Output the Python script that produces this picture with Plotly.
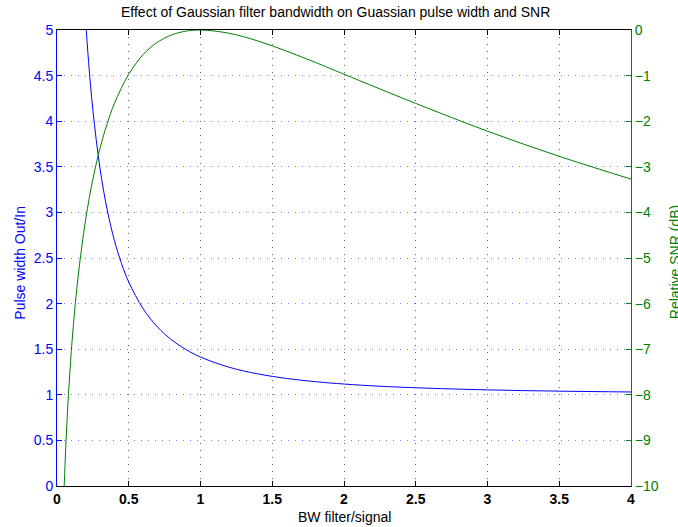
import plotly.graph_objects as go

# Filter bandwidth relative to signal bandwidth
bw_width = [0.18, 0.20, 0.22, 0.25, 0.30, 0.35, 0.40, 0.45, 0.50, 0.60, 0.70, 0.80,
            0.90, 1.00, 1.20, 1.40, 1.60, 1.80, 2.00, 2.25, 2.50, 3.00, 3.50, 4.00]
# Output / input pulse width ratio
pulse_ratio = [5.645, 5.099, 4.654, 4.123, 3.480, 3.027, 2.693, 2.437, 2.236, 1.944,
               1.744, 1.601, 1.495, 1.414, 1.302, 1.229, 1.179, 1.144, 1.118, 1.094,
               1.077, 1.054, 1.040, 1.031]

bw_snr = [0.05, 0.06, 0.07, 0.08, 0.10, 0.12, 0.15, 0.20, 0.25, 0.30, 0.35, 0.40,
          0.50, 0.60, 0.70, 0.80, 0.90, 1.00, 1.20, 1.40, 1.60, 1.80, 2.00, 2.50,
          3.00, 3.50, 4.00]
# Relative SNR in dB
snr_db = [-10.01, -9.22, -8.56, -7.99, -7.03, -6.26, -5.33, -4.15, -3.27, -2.59,
          -2.05, -1.61, -0.97, -0.54, -0.27, -0.107, -0.024, 0.0, -0.072, -0.241,
          -0.463, -0.71, -0.97, -1.61, -2.22, -2.77, -3.27]

x_ticks = [0, 0.5, 1, 1.5, 2, 2.5, 3, 3.5, 4]
y_ticks = [0, 0.5, 1, 1.5, 2, 2.5, 3, 3.5, 4, 4.5, 5]
y2_ticks = [0, -1, -2, -3, -4, -5, -6, -7, -8, -9, -10]

BLUE = "#0000FF"
GREEN = "#008000"
FONT = "Liberation Sans, Arial, Helvetica, sans-serif"

fig = go.Figure()
fig.add_trace(go.Scatter(x=bw_width, y=pulse_ratio, mode="lines",
                         line=dict(color=BLUE, width=1, shape="spline"),
                         yaxis="y", showlegend=False))
fig.add_trace(go.Scatter(x=bw_snr, y=snr_db, mode="lines",
                         line=dict(color=GREEN, width=1, shape="spline"),
                         yaxis="y2", showlegend=False))

fig.update_layout(
    width=678, height=527,
    margin=dict(l=57, r=47, t=30, b=41),
    paper_bgcolor="white", plot_bgcolor="white",
    font=dict(family=FONT, size=14, color="black"),
    xaxis=dict(range=[0, 4], tickvals=x_ticks,
               ticktext=[f"{v:g}" for v in x_ticks],
               ticks="inside", ticklen=5, tickcolor="black",
               showline=True, linecolor="black", linewidth=1, mirror="ticks",
               showgrid=True, gridcolor="rgba(60,60,60,0.8)", griddash="1px,6px", gridwidth=1,
               zeroline=False, tickfont=dict(size=14, color="black", weight="bold")),
    yaxis=dict(range=[0, 5], tickvals=y_ticks,
               ticktext=[f"{v:g}" for v in y_ticks],
               ticks="inside", ticklen=5, tickcolor=BLUE,
               showline=True, linecolor=BLUE, linewidth=1,
               showgrid=True, gridcolor="rgba(90,90,255,0.8)", griddash="1px,6px", gridwidth=1,
               zeroline=False, tickfont=dict(size=14, color=BLUE)),
    yaxis2=dict(range=[-10, 0], tickvals=y2_ticks,
                ticktext=["0"] + ["\u2212" + str(-v) for v in y2_ticks[1:]],
                overlaying="y", side="right",
                ticks="inside", ticklen=5, tickcolor=GREEN,
                showline=True, linecolor=GREEN, linewidth=1,
                showgrid=False, zeroline=False, tickfont=dict(size=14, color=GREEN)),
    annotations=[
        dict(text="Effect of Gaussian filter bandwidth on Guassian pulse width and SNR",
             xref="paper", yref="paper", x=0.485, y=1.039, showarrow=False,
             xanchor="center", yanchor="middle", font=dict(size=14, color="black")),
        dict(text="BW filter/signal", xref="paper", yref="paper", x=0.5, y=-0.068,
             showarrow=False, xanchor="center", yanchor="middle",
             font=dict(size=14, color="black")),
        dict(text="Pulse width Out/In", xref="paper", yref="paper", x=-0.066, y=0.49,
             showarrow=False, textangle=-90, xanchor="center", yanchor="middle",
             font=dict(size=14, color=BLUE)),
        dict(text="Relative SNR (dB)", xref="paper", yref="paper", x=1.076, y=0.49,
             showarrow=False, textangle=-90, xanchor="center", yanchor="middle",
             font=dict(size=14, color=GREEN)),
    ],
)

fig.write_html("out.html")
